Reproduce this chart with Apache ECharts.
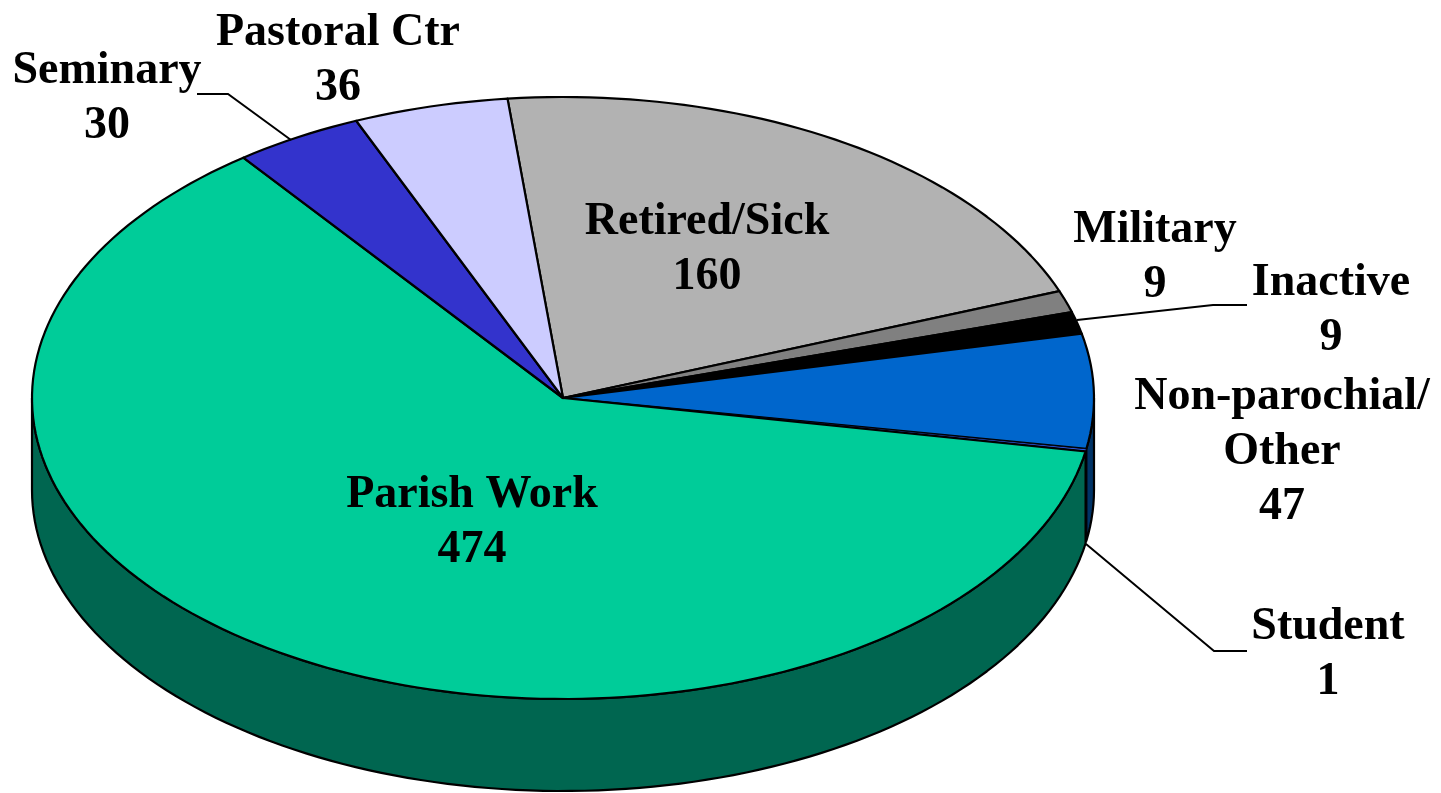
<!DOCTYPE html>
<html>
<head>
<meta charset="utf-8">
<style>
    html, body { margin: 0; padding: 0; background: #fff; }
    #chart { width: 1441px; height: 793px; }
</style>
<script src="https://cdn.jsdelivr.net/npm/echarts@6/dist/echarts.min.js"></script>
</head>
<body>
<div id="chart"></div>
<script>
// Данные (по часовой стрелке, начиная с Retired/Sick)
const categories = ['Retired/Sick', 'Military', 'Inactive', 'Non-parochial/\nOther', 'Student', 'Parish Work', 'Seminary', 'Pastoral Ctr'];
const values = [160, 9, 9, 47, 1, 474, 30, 36];

// Цвета верхней грани и боковой стенки
const topColors = ['#b2b2b2', '#808080', '#000000', '#0066cc', '#3366ff', '#00cc99', '#3333cc', '#ccccff'];
const wallColors = ['#595959', '#404040', '#000000', '#003366', '#1a3380', '#006650', '#1a1a66', '#666680'];

// Геометрия псевдо-3D круга
const CENTER_X = 563;
const CENTER_Y = 398;
const RADIUS_X = 531;
const RADIUS_Y = 301;
const DEPTH = 92;
const START_ANGLE = -6;

// Расположение подписей (центр первой строки текста)
const labelPositions = [[707, 222], [1155, 230], [1331, 283], [1282, 397], [1328, 627], [472, 495], [107, 71], [338, 33]];

// Выноски
const leaderLines = {
    4: [[1086, 544], [1214, 651], [1247, 651]],
    2: [[1077, 320], [1213, 305], [1247, 305]],
    6: [[291, 140], [228, 94], [197, 94]]
};

const total = values.reduce((sum, v) => sum + v, 0);

function pointAt(angle, dy) {
    const rad = angle * Math.PI / 180;
    return [
        CENTER_X + RADIUS_X * Math.sin(rad),
        CENTER_Y - RADIUS_Y * Math.cos(rad) + dy
    ];
}

function arcPoints(from, to, dy) {
    const points = [];
    const steps = Math.max(1, Math.ceil((to - from) / 1.5));
    for (let i = 0; i <= steps; i++) {
        points.push(pointAt(from + (to - from) * i / steps, dy));
    }
    return points;
}

function renderSlice(params, api) {
    const index = params.dataIndex;
    const value = api.value(0);
    let before = 0;
    for (let i = 0; i < index; i++) before += values[i];
    const from = START_ANGLE + before / total * 360;
    const to = from + value / total * 360;
    const children = [];
    // Очень узкий сектор с обычной обводкой выглядит как жирная линия
    const strokeWidth = to - from < 1 ? 0.8 : 2.2;

    // Боковая стенка видна только на передней половине (90..270)
    const wallFrom = Math.max(from, 90);
    const wallTo = Math.min(to, 270);
    if (wallTo > wallFrom) {
        const upper = arcPoints(wallFrom, wallTo, 0);
        const lower = arcPoints(wallFrom, wallTo, DEPTH).reverse();
        children.push({
            type: 'polygon',
            shape: { points: upper.concat(lower) },
            style: { fill: wallColors[index], stroke: '#000', lineWidth: strokeWidth, lineJoin: 'round' }
        });
    }

    // Верхняя грань
    children.push({
        type: 'polygon',
        z2: 5,
        shape: { points: [[CENTER_X, CENTER_Y]].concat(arcPoints(from, to, 0)) },
        style: { fill: topColors[index], stroke: '#000', lineWidth: strokeWidth, lineJoin: 'round' }
    });

    if (leaderLines[index]) {
        children.push({
            type: 'polyline',
            z2: 6,
            shape: { points: leaderLines[index] },
            style: { fill: null, stroke: '#000', lineWidth: 2 }
        });
    }

    // Подпись: название и значение
    const lines = categories[index].split('\n').concat(String(value));
    lines.forEach((line, n) => {
        children.push({
            type: 'text',
            z2: 10,
            x: labelPositions[index][0],
            y: labelPositions[index][1] + n * 55,
            style: {
                text: line,
                fill: '#000',
                font: 'bold 46px "Liberation Serif", "Times New Roman", serif',
                textAlign: 'center',
                textVerticalAlign: 'middle'
            }
        });
    });

    return { type: 'group', children: children };
}

const chart = echarts.init(document.getElementById('chart'), null, { renderer: 'canvas' });
chart.setOption({
    backgroundColor: '#ffffff',
    animation: false,
    tooltip: { show: false },
    series: [{
        type: 'custom',
        coordinateSystem: 'none',
        silent: true,
        renderItem: renderSlice,
        data: values.map((v, i) => ({ name: categories[i], value: [v] }))
    }]
});
</script>
</body>
</html>
